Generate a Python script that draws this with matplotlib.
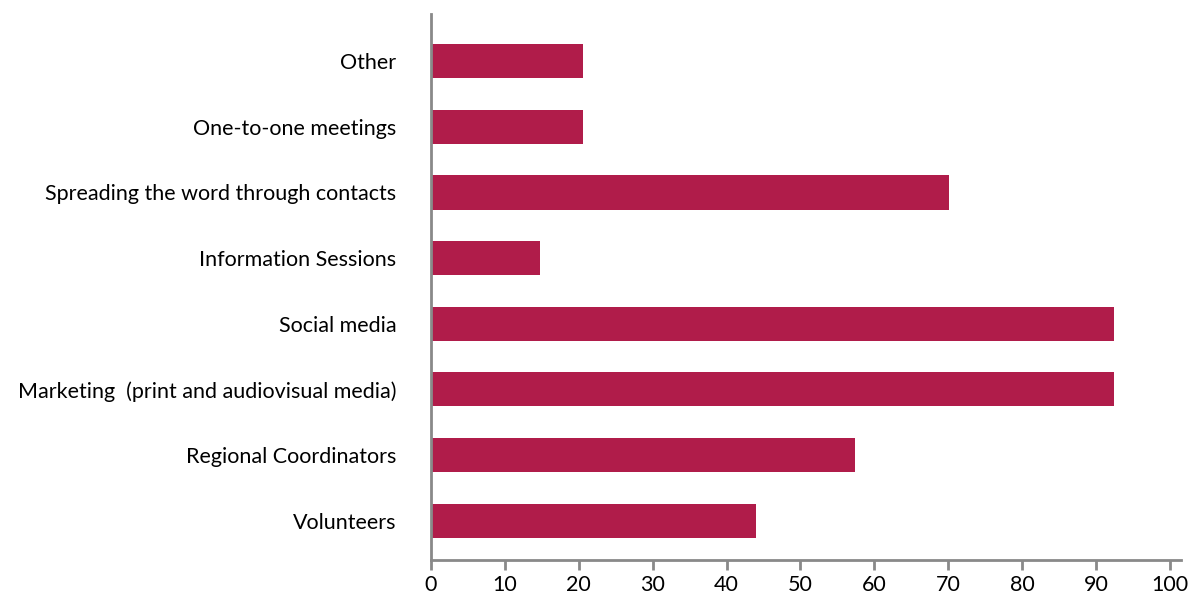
import matplotlib
matplotlib.use("Agg")
import matplotlib.pyplot as plt

categories = ["Volunteers", "Regional Coordinators", "Marketing  (print and audiovisual media)",
              "Social media", "Information Sessions", "Spreading the word through contacts",
              "One-to-one meetings", "Other"]
values = [44.0, 57.4, 92.4, 92.4, 14.8, 70.1, 20.6, 20.6]
xticks = [0, 10, 20, 30, 40, 50, 60, 70, 80, 90, 100]

plt.rcParams['font.family'] = ['Lato', 'DejaVu Sans']

fig = plt.figure(figsize=(11.9, 5.95), dpi=100)
ax = fig.add_axes([431 / 1190, 35 / 595, 750 / 1190, 546 / 595])
ax.barh(range(len(categories)), values, height=0.52, color="#B01C4A")
ax.set_yticks(range(len(categories)))
ax.set_yticklabels(categories, fontsize=15.5)
ax.set_ylim(-0.6, 7.72)
ax.set_xlim(0, 101.5)
ax.set_xticks(xticks)
ax.set_xticklabels([str(t) for t in xticks], fontsize=15.5)
for s in ["top", "right"]:
    ax.spines[s].set_visible(False)
for s in ["left", "bottom"]:
    ax.spines[s].set_color("#898989")
    ax.spines[s].set_linewidth(2)
ax.tick_params(axis="y", length=0, pad=25)
ax.tick_params(axis="x", length=7, width=2, color="#898989", pad=4)
fig.savefig("out.png", dpi=100)
